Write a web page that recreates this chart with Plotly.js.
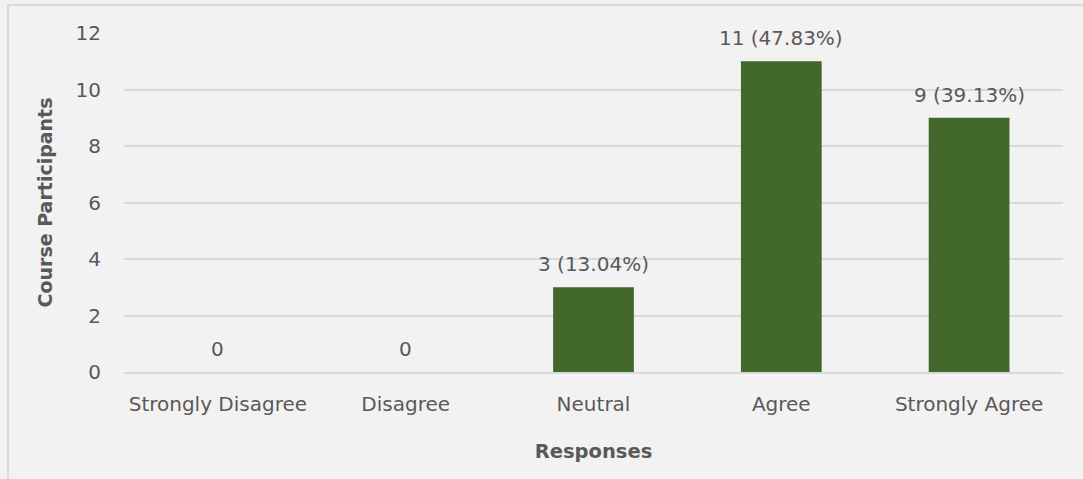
<!DOCTYPE html>
<html>
<head>
<meta charset="utf-8">
<script src="https://cdn.plot.ly/plotly-3.0.1.min.js"></script>
<style>
  html, body { margin: 0; padding: 0; background: #f2f2f2; overflow: hidden; }
  #frame { position: absolute; left: 7px; top: 4px; width: 1100px; height: 520px; border: 2px solid #d9d9d9; box-sizing: border-box; }
  #chart { position: absolute; left: 0; top: 0; width: 1083px; height: 479px; }
</style>
</head>
<body>
<div id="frame"></div>
<div id="chart"></div>
<script>
const categories = ["Strongly Disagree", "Disagree", "Neutral", "Agree", "Strongly Agree"];
const counts = [0, 0, 3, 11, 9];
const labels = ["0", "0", "3 (13.04%)", "11 (47.83%)", "9 (39.13%)"];

const FONT = '"DejaVu Sans", Verdana, sans-serif';
const GREY = '#595959';

const trace = {
  type: 'bar',
  x: categories,
  y: counts,
  marker: { color: '#43682b' },
  hoverinfo: 'x+y'
};

const annotations = categories.map((c, i) => ({
  x: c, y: counts[i], xref: 'x', yref: 'y',
  text: labels[i], showarrow: false,
  yanchor: 'bottom', yshift: 9,
  font: { family: FONT, size: 20, color: GREY }
}));

const layout = {
  width: 1083, height: 479,
  paper_bgcolor: 'rgba(0,0,0,0)',
  plot_bgcolor: 'rgba(0,0,0,0)',
  margin: { l: 124, r: 20, t: 33, b: 107 },
  bargap: 0.57,
  showlegend: false,
  font: { family: FONT, size: 20, color: GREY },
  xaxis: {
    type: 'category',
    showgrid: false,
    showline: true, linecolor: '#d9d9d9', linewidth: 2,
    ticks: '', ticklabelstandoff: 13,
    tickfont: { family: FONT, size: 20, color: GREY },
    title: { text: '<b>Responses</b>', font: { family: FONT, size: 19.5, color: GREY }, standoff: 29 },
    automargin: false
  },
  yaxis: {
    range: [0, 12], dtick: 2, tick0: 0,
    showgrid: true, gridcolor: '#d9d9d9', gridwidth: 2,
    zeroline: false, showline: false,
    ticks: '', ticklabelstandoff: 22,
    tickfont: { family: FONT, size: 20, color: GREY },
    title: { text: '<b>Course Participants</b>', font: { family: FONT, size: 19, color: GREY }, standoff: 17 },
    automargin: false
  },
  annotations: annotations
};

Plotly.newPlot('chart', [trace], layout, { displayModeBar: false, staticPlot: true });
</script>
</body>
</html>
